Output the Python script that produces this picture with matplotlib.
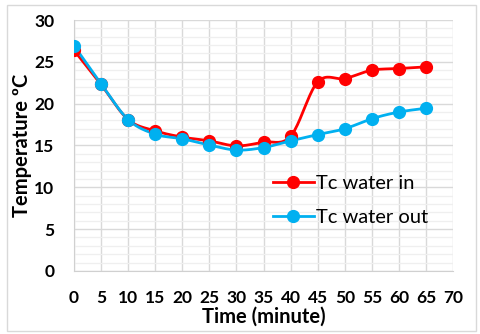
import numpy as np
import matplotlib
matplotlib.use("Agg")
import matplotlib.pyplot as plt
from matplotlib.patches import Rectangle
from matplotlib.lines import Line2D

time_min = [0, 5, 10, 15, 20, 25, 30, 35, 40, 45, 50, 55, 60, 65]
tc_water_in = [26.4, 22.3, 18.1, 16.75, 16.0, 15.55, 14.95, 15.4, 16.1, 22.6, 23.0, 24.0, 24.2, 24.4]
tc_water_out = [26.95, 22.4, 18.1, 16.35, 15.8, 15.05, 14.45, 14.75, 15.55, 16.3, 17.0, 18.2, 19.0, 19.45]
x_ticks = list(range(0, 75, 5))
y_ticks = list(range(0, 35, 5))

plt.rcParams['font.family'] = ['Lato', 'DejaVu Sans']


def smooth(x, y, n=20, t=0.5):
    """Excel-like smoothed line: cardinal spline through the points."""
    x = np.asarray(x, float); y = np.asarray(y, float)
    px = np.concatenate([[x[0]], x, [x[-1]]])
    py = np.concatenate([[y[0]], y, [y[-1]]])
    xs, ys = [], []
    for i in range(1, len(px) - 2):
        p0 = np.array([px[i - 1], py[i - 1]]); p1 = np.array([px[i], py[i]])
        p2 = np.array([px[i + 1], py[i + 1]]); p3 = np.array([px[i + 2], py[i + 2]])
        c1 = p1 + (p2 - p0) * t / 3
        c2 = p2 - (p3 - p1) * t / 3
        s = np.linspace(0, 1, n, endpoint=(i == len(px) - 3))
        b = ((1 - s) ** 3)[:, None] * p1 + (3 * (1 - s) ** 2 * s)[:, None] * c1 \
            + (3 * (1 - s) * s ** 2)[:, None] * c2 + (s ** 3)[:, None] * p2
        xs.append(b[:, 0]); ys.append(b[:, 1])
    return np.concatenate(xs), np.concatenate(ys)


fig = plt.figure(figsize=(4.8, 3.34), dpi=100)
fig.patches.append(Rectangle((0.015, 0.008), 0.977, 0.978, transform=fig.transFigure,
                             fill=False, edgecolor='#d9d9d9', linewidth=1.0))
ax = fig.add_axes([0.154, 0.189, 0.790, 0.751])

red = '#ff0000'
blue = '#00b0f0'
for y, c in [(tc_water_in, red), (tc_water_out, blue)]:
    sx, sy = smooth(time_min, y)
    ax.plot(sx, sy, color=c, lw=2.0, zorder=3)
    ax.plot(time_min, y, 'o', color=c, ms=8.5, zorder=4)

ax.set_xlim(0, 70)
ax.set_ylim(0, 30)
ax.set_xticks(x_ticks)
ax.set_yticks(y_ticks)
ax.set_yticks(np.arange(0, 31, 1), minor=True)
ax.grid(True, which='major', color='#d9d9d9', lw=1.0, zorder=0)
ax.grid(True, which='minor', axis='y', color='#efefef', lw=0.9, zorder=0)
ax.set_axisbelow(True)
for s in ['top', 'right']:
    ax.spines[s].set_visible(False)
for s in ['left', 'bottom']:
    ax.spines[s].set_color('#d0d0d0')
ax.tick_params(which='both', length=0)
ax.tick_params(axis='both', labelsize=12.5)
ax.tick_params(axis='x', pad=14)
ax.tick_params(axis='y', pad=14)
for lbl in ax.get_xticklabels() + ax.get_yticklabels():
    lbl.set_fontweight('bold')
ax.set_xlabel('Time (minute)', fontsize=14.5, fontweight='bold', labelpad=0)
ax.set_ylabel('Temperature ºC', fontsize=14.5, fontweight='bold')
ax.yaxis.set_label_coords(-0.11, 0.5)

handles = [Line2D([], [], color=red, lw=2, marker='o', ms=8.5),
           Line2D([], [], color=blue, lw=2, marker='o', ms=8.5)]
ax.legend(handles, ['Tc water in', 'Tc water out'], loc='center left',
          bbox_to_anchor=(0.478, 0.28), frameon=False, fontsize=14.5,
          handlelength=2.0, handletextpad=0.1, labelspacing=0.85)

fig.savefig('out.png', dpi=100)
